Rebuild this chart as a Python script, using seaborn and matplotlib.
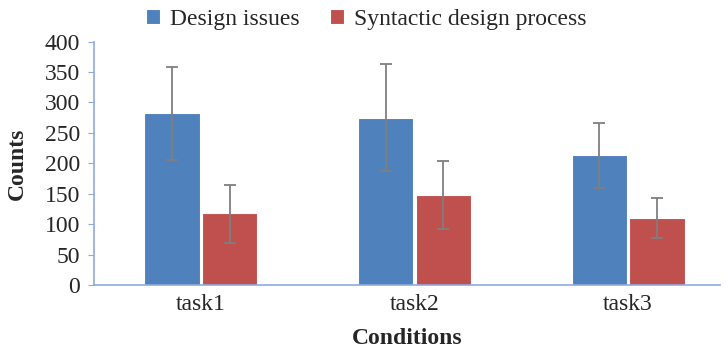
import pandas as pd
import matplotlib.pyplot as plt
import seaborn as sns

# data
tasks = ['task1', 'task2', 'task3']
series = ['Design issues', 'Syntactic design process']
design_issues = [282, 275, 213]
syntactic = [118, 148, 110]
design_err_lo = [205, 187, 159]
design_err_hi = [358, 363, 267]
syntactic_err_lo = [70, 92, 77]
syntactic_err_hi = [165, 204, 143]

df = pd.DataFrame({
    'task': tasks * 2,
    'group': [series[0]] * 3 + [series[1]] * 3,
    'count': design_issues + syntactic,
})

sns.set_style('white')
plt.rcParams['font.family'] = ['Liberation Serif', 'DejaVu Serif']

fig = plt.figure(figsize=(7.28, 3.49), dpi=100)
ax = fig.add_axes([0.129, 0.183, 0.860, 0.698])

palette = {series[0]: '#4F81BD', series[1]: '#C0504D'}
sns.barplot(data=df, x='task', y='count', hue='group', palette=palette,
            width=0.54, gap=0.04, errorbar=None, saturation=1,
            edgecolor='white', linewidth=0.8, ax=ax)

# error bars at the bar centres
lows = design_err_lo + syntactic_err_lo
highs = design_err_hi + syntactic_err_hi
vals = design_issues + syntactic
bars = [p for p in ax.patches if p.get_height() > 0][:6]
for bar, v, lo, hi in zip(bars, vals, lows, highs):
    xc = bar.get_x() + bar.get_width() / 2
    ax.errorbar(xc, v, yerr=[[v - lo], [hi - v]], fmt='none',
                ecolor='#7f7f7f', elinewidth=1.3, capsize=4, capthick=1.3)

ax.set_ylim(0, 400)
ax.set_xlim(-0.5, 2.43)
ax.set_yticks(range(0, 401, 50))
ax.set_xlabel('Conditions', fontsize=17, fontweight='bold', labelpad=9)
ax.set_ylabel('Counts', fontsize=17, fontweight='bold', labelpad=12)
ax.tick_params(axis='y', labelsize=17, left=True, length=4, color='#8faadc', pad=6)
ax.tick_params(axis='x', labelsize=17, bottom=False, pad=3)

for s in ['top', 'right']:
    ax.spines[s].set_visible(False)
for s in ['left', 'bottom']:
    ax.spines[s].set_color('#8faadc')
    ax.spines[s].set_linewidth(1.2)

ax.legend(loc='center', bbox_to_anchor=(0.435, 1.09), ncol=2,
          frameon=False, fontsize=17, handlelength=0.6, handleheight=0.6,
          handletextpad=0.4, columnspacing=1.3, borderpad=0)

fig.savefig('out.png', dpi=100)
